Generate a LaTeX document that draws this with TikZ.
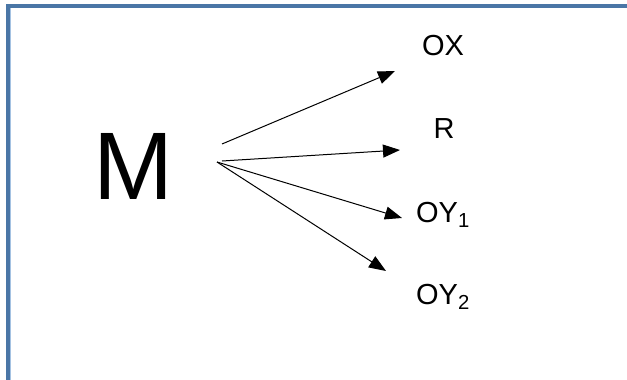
\documentclass[tikz,border=0pt]{standalone}
\usepackage{fontspec}
\setmainfont{Liberation Sans}
\usetikzlibrary{arrows.meta}
\definecolor{frameblue}{HTML}{4A76A6}
\definecolor{framelight}{HTML}{A4C2E2}

\begin{document}
\begin{tikzpicture}[x=1pt,y=-1pt,line width=1pt,
    lbl/.style={font=\fontsize{29}{31}\selectfont,inner sep=0pt,anchor=base},
    arr/.style={-{Triangle[length=17pt,width=13pt]}}]

    \useasboundingbox (0,0) rectangle (627,380);

    % frame: only the top and the left edge show
    \draw[framelight,line width=1.6pt] (10.6,8) -- (10.6,380);
    \draw[frameblue,line width=3.2pt] (627,6) -- (8,6) -- (8,380);

    \node[font=\fontsize{96}{100}\selectfont,inner sep=0pt,anchor=base] (m) at (133,199) {M};

    \node[lbl] (ox)  at (443,55)  {OX};
    \node[lbl] (r)   at (444,138) {R};
    \node[lbl] (oy1) at (443,222) {OY\textsubscript{1}};
    \node[lbl] (oy2) at (443,304) {OY\textsubscript{2}};

    % tails near M, tips near the labels
    \coordinate (s1) at (222,144);
    \coordinate (s2) at (222,161);
    \coordinate (s3) at (217,162);
    \coordinate (t1) at (395,71);
    \coordinate (t2) at (400,150);
    \coordinate (t3) at (402,218);
    \coordinate (t4) at (386,271);

    \draw[arr] (s1) -- (t1);
    \draw[arr] (s2) -- (t2);
    \draw[arr] (s3) -- (t3);
    \draw[arr] (s3) -- (t4);

\end{tikzpicture}
\end{document}
